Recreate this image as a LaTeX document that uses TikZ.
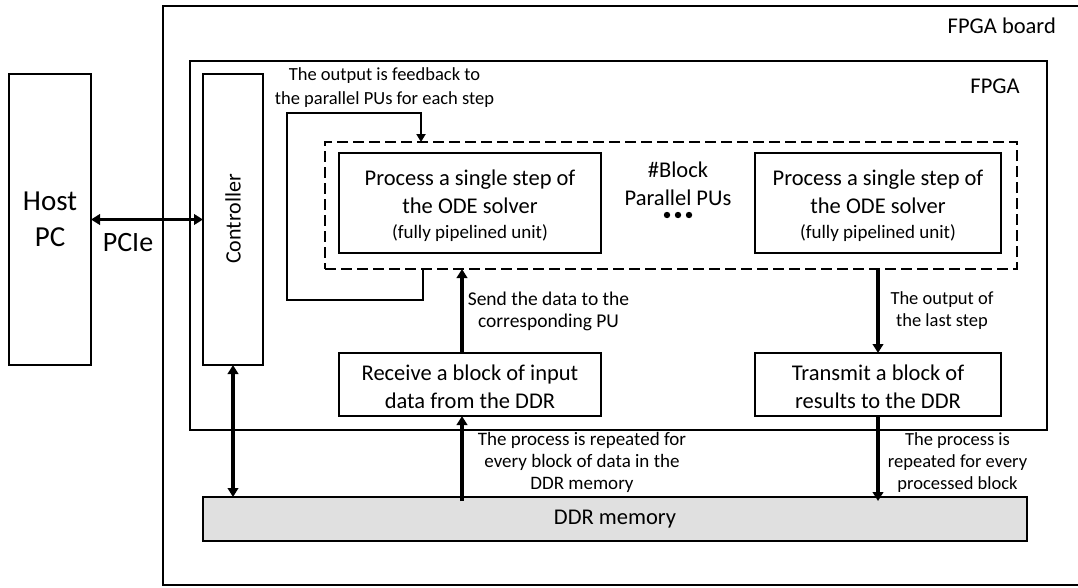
\documentclass[tikz,border=0pt]{standalone}
\usepackage{fontspec}
\setmainfont{Carlito}
\usetikzlibrary{arrows.meta}
\newcommand\fsz[2]{\fontsize{#1}{#2}\selectfont}

\begin{document}
\begin{tikzpicture}[x=1pt,y=-1pt,
  frame/.style={draw, line width=2pt, inner sep=0pt, outer sep=0pt},
  unitbox/.style={frame, align=center, font=\fsz{22.5}{28}},
  unittext/.style={align=center, inner sep=0pt, font=\fsz{22.5}{28}},
  dashbox/.style={draw, line width=1.4pt, dash pattern=on 11pt off 5pt, inner sep=0pt, outer sep=0pt},
  bigarrow/.style={line width=3.5pt, -{Triangle[width=10.5pt,length=9pt]}},
  botharrow/.style={line width=3.5pt, {Triangle[width=10.5pt,length=9pt]}-{Triangle[width=10.5pt,length=9pt]}},
  fbarrow/.style={line width=2pt, -{Triangle[width=9pt,length=8pt]}},
  note/.style={align=center, inner sep=0pt, font=\fsz{18.5}{22}},
  title/.style={inner sep=0pt, font=\fsz{22.5}{28}}
]
\clip (0,0) rectangle (1078,587);
\fill[white] (0,0) rectangle (1078,587);

% board and chip outlines
\node[frame, minimum width=930pt, minimum height=579pt] (board) at (628,295.5) {};
\node[frame, minimum width=857pt, minimum height=369pt] (fpga) at (618.5,245.5) {};
\node[title, anchor=east] (boardlbl) at (1056,26) {FPGA board};
\node[title] (fpgalbl) at (995,86) {FPGA};

% host and controller
\node[frame, minimum width=82pt, minimum height=291pt, align=center,
      font=\fsz{29}{36}] (host) at (50,219.5) {Host\\PC};
\node[frame, minimum width=60pt, minimum height=291pt] (ctrl) at (233,219.5) {};
\node[rotate=90, inner sep=0pt, font=\fsz{22}{26}] (ctrllbl) at (233,219) {Controller};
\node[inner sep=0pt, font=\fsz{28}{34}] (pcie) at (128,243) {PCIe};

% parallel processing units
\node[dashbox, minimum width=692pt, minimum height=127pt] (pus) at (671,205.5) {};
\node[frame, minimum width=262pt, minimum height=100pt] (pu1) at (470,203) {};
\node[frame, minimum width=246pt, minimum height=100pt] (pu2) at (878,203) {};
\node[unittext] (pu1txt) at (470,206)
  {Process a single step of\\the ODE solver\\[-3pt]{\fsz{19}{24}(fully pipelined unit)}};
\node[unittext] (pu2txt) at (878,206)
  {Process a single step of\\the ODE solver\\[-3pt]{\fsz{19}{24}(fully pipelined unit)}};
\node[unittext] (nblk) at (678,183.5) {\#Block\\Parallel PUs};
\foreach \dx in {-11,0,11}
  \fill (678+\dx,215) circle (3.2pt);

% input and output stages
\node[unitbox, minimum width=262pt, minimum height=63pt] (recv) at (470,384.5) {};
\node[unitbox, minimum width=246pt, minimum height=63pt] (trans) at (878,384.5) {};
\node[unittext] (recvtxt) at (470,386.5) {Receive a block of input\\data from the DDR};
\node[unittext] (transtxt) at (878,386.5) {Transmit a block of\\results to the DDR};

% memory
\node[frame, fill=black!12, minimum width=824pt, minimum height=44pt,
      font=\fsz{22.5}{28}] (ddr) at (615,519) {DDR memory};

% host link and memory link of the controller
\draw[botharrow] (host.east) -- (ctrl.west);
\draw[botharrow] (ctrl.south) -- (ctrl.south |- ddr.north);

% feedback loop around the processing units
\coordinate (fbout) at (423,269);
\coordinate (fbin) at (421,142);
\draw[fbarrow] (fbout) -- (423,300) -- (287,300) -- (287,113) -- (421,113) -- (fbin);
\node[note] (fblbl) at (384.5,88)
  {The output is feedback to\\[2pt]the parallel PUs for each step};

% data path
\coordinate (inx) at (462,0);
\coordinate (outx) at (878,0);
\draw[bigarrow] (recv.north -| inx) -- (pus.south -| inx);
\draw[bigarrow] ([yshift=-4pt]ddr.north -| inx) -- (recv.south -| inx);
\draw[bigarrow] (pus.south -| outx) -- (trans.north -| outx);
\draw[bigarrow] (trans.south -| outx) -- ([yshift=-4pt]ddr.north -| outx);

\node[note, font=\fsz{19.5}{22}] (sendlbl) at (548.5,311) {Send the data to the\\corresponding PU};
\node[note, font=\fsz{19}{22}] (replbl) at (582,462) {The process is repeated for\\every block of data in the\\DDR memory};
\node[note] (lastlbl) at (942,311) {The output of\\the last step};
\node[note] (proclbl) at (957.5,462.5) {The process is\\repeated for every\\processed block};
\end{tikzpicture}
\end{document}
